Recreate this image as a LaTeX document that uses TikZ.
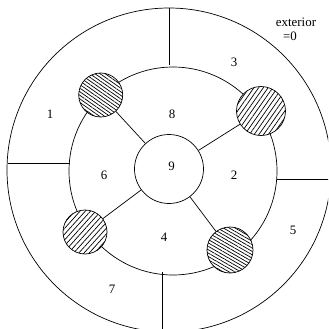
\documentclass[tikz,border=0pt]{standalone}
\usepackage{fontspec}
\setmainfont{Liberation Serif}
\usetikzlibrary{patterns.meta}
\tikzset{
    anillo/.style={line width=0.6pt},
    region/.style={circle, draw, line width=0.6pt, inner sep=0pt, fill=white},
    rayado/.style={region, postaction={pattern={Lines[angle=#1, distance=3.3pt, line width=0.6pt]}}},
    rayadofino/.style={region, postaction={pattern={Lines[angle=#1, distance=2.5pt, line width=0.6pt]}}},
    etiqueta/.style={inner sep=0pt, font=\fontsize{11pt}{13pt}\selectfont},
}

\begin{document}
\begin{tikzpicture}[x=0.3mm, y=-0.3mm]

\useasboundingbox (0,0) rectangle (328,329);
\clip (0,0) rectangle (328,329);

% anillos exterior y medio
\draw[anillo] (169,170) circle (162);
\draw[anillo] (173,171) circle (104);

% circulo central y circulos rayados
\node[region, minimum size=20.7mm] (c9) at (169,169) {};
\node[rayadofino=-35, minimum size=13.2mm] (h1) at (100.7,95) {};
\node[rayado=55, minimum size=14.7mm] (h2) at (261,111) {};
\node[rayado=48, minimum size=13.2mm] (h3) at (85,232) {};
\node[rayadofino=-30, minimum size=13.8mm] (h4) at (230,250) {};

% radios
\foreach \h in {h1,h2,h3,h4} {
    \draw[anillo] (\h) -- (c9);
}

% separaciones entre anillos
\coordinate (sa1) at (169.3,8);
\coordinate (sa2) at (169.3,65);
\coordinate (si1) at (7.5,163);
\coordinate (si2) at (70,163);
\coordinate (sd1) at (277,179);
\coordinate (sd2) at (330,179);
\coordinate (sb1) at (162,272);
\coordinate (sb2) at (162,335);
\draw[anillo] (sa1) -- (sa2);
\draw[anillo] (si1) -- (si2);
\draw[anillo] (sd1) -- (sd2);
\draw[anillo] (sb1) -- (sb2);

% etiquetas
\node[etiqueta] (e1) at (50,114) {1};
\node[etiqueta] (e2) at (234,175) {2};
\node[etiqueta] (e3) at (234,62) {3};
\node[etiqueta] (e4) at (164,237) {4};
\node[etiqueta] (e5) at (293,230) {5};
\node[etiqueta] (e6) at (104,175) {6};
\node[etiqueta] (e7) at (112,289) {7};
\node[etiqueta] (e8) at (172,114) {8};
\node[etiqueta] (e9) at (171.5,166) {9};
\node[etiqueta] (ext) at (296,22) {exterior};
\node[etiqueta] (ext0) at (290,36) {=0};

\end{tikzpicture}
\end{document}
